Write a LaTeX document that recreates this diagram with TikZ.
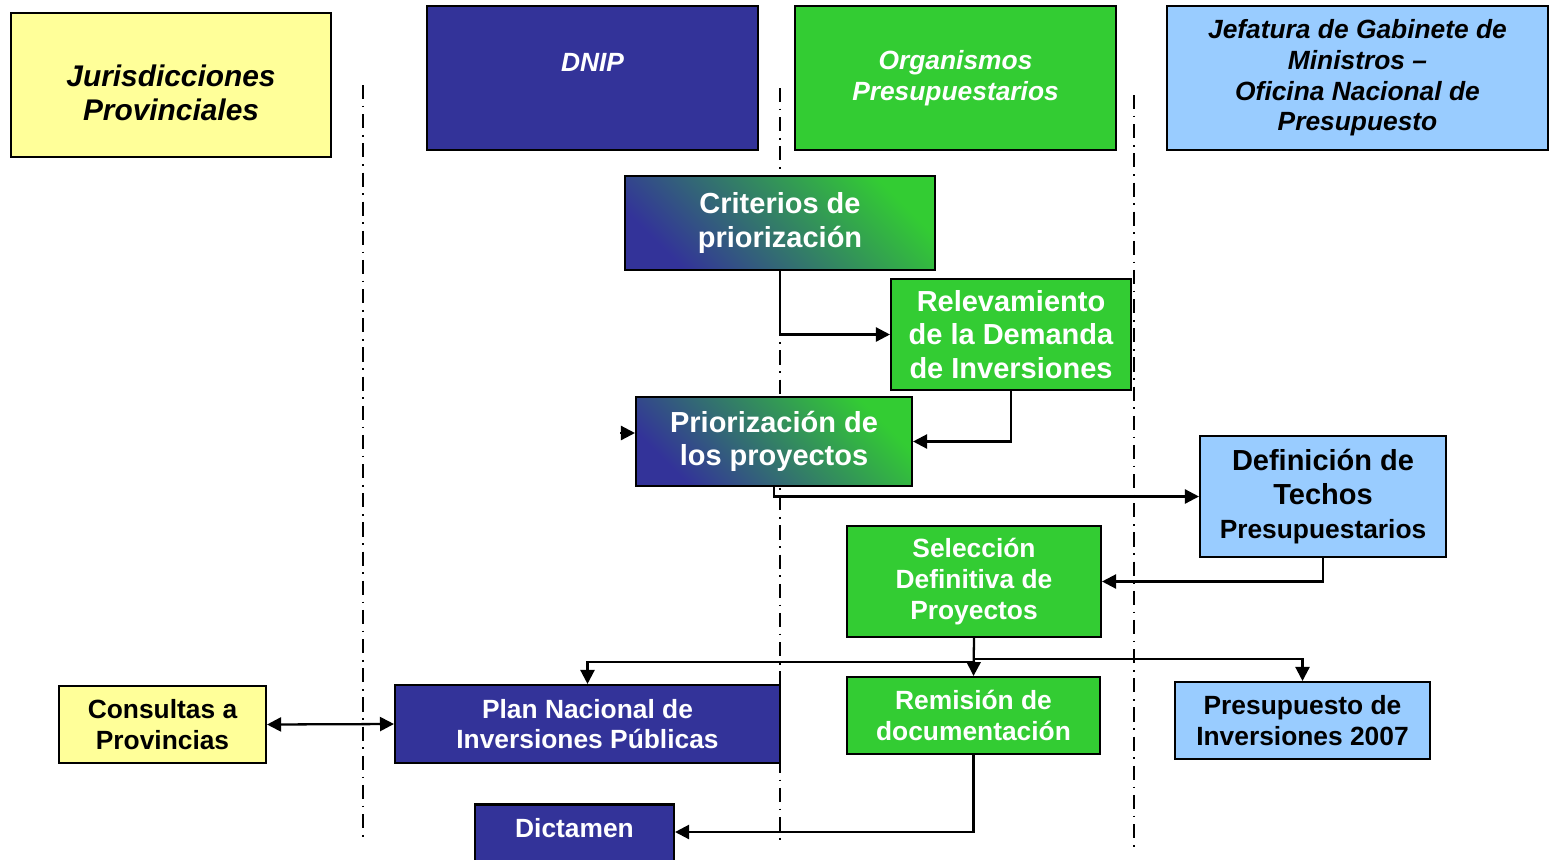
\documentclass[tikz,border=0pt]{standalone}
\usepackage{fontspec}
\setmainfont{Liberation Sans}
\usetikzlibrary{arrows.meta}
\definecolor{dnipblue}{HTML}{333399}
\definecolor{orggreen}{HTML}{33CC33}
\definecolor{jefblue}{HTML}{99CCFF}
\definecolor{provyellow}{HTML}{FFFF99}
\begin{document}
\begin{tikzpicture}[x=0.02cm, y=-0.02cm,
  box/.style={draw=black, line width=1.2pt, align=center, inner sep=0pt,
    font=\bfseries\fontsize{15}{17.5}\selectfont},
  big/.style={font=\bfseries\fontsize{16.5}{19.2}\selectfont},
  head/.style={font=\bfseries\itshape\fontsize{15}{17.5}\selectfont},
  provbox/.style={box, fill=provyellow, text=black},
  dnipbox/.style={box, fill=dnipblue, text=white},
  orgbox/.style={box, fill=orggreen, text=white},
  jefbox/.style={box, fill=jefblue, text=black},
  gradbox/.style={box, big, text=white, bottom color=dnipblue, top color=orggreen, shading angle=-45},
  conn/.style={line width=1.3pt, -{Triangle[length=0.28cm, width=0.28cm]}},
  lane/.style={line width=0.8pt, dash pattern=on 8pt off 3.8pt on 1pt off 3.8pt}]
\useasboundingbox (0,0) rectangle (1564,859);

% lanes
\draw[lane] (363,85) -- (363,840);
\draw[lane] (780,88) -- (780,845);
\draw[lane] (1134,95) -- (1134,850);

% headers
\node (juris) [provbox, head, minimum width=6.40cm, minimum height=2.88cm, text height=41pt,
  font=\bfseries\itshape\fontsize{17}{19.8}\selectfont] at (171,85) {Jurisdicciones\\Provinciales};
\node (dnip) [dnipbox, head, minimum width=6.62cm, minimum height=2.88cm] at (592.5,78) {DNIP\\~};
\node (org) [orgbox, head, minimum width=6.42cm, minimum height=2.88cm] at (955.5,78) {Organismos\\Presupuestarios};
\node (jef) [jefbox, head, minimum width=7.62cm, minimum height=2.88cm] at (1357.5,78)
  {Jefatura de Gabinete de\\Ministros --\\Oficina Nacional de\\Presupuesto};

% steps
\node (crit) [gradbox, minimum width=6.20cm, minimum height=1.88cm] at (780,223) {Criterios de\\priorización};
\node (relev) [orgbox, big, minimum width=4.80cm, minimum height=2.22cm] at (1011,334.5)
  {Relevamiento\\de la Demanda\\de Inversiones};
\node (prior) [gradbox, minimum width=5.52cm, minimum height=1.78cm] at (774,441.5) {Priorización de\\los proyectos};
\node (techos) [jefbox, big, minimum width=4.92cm, minimum height=2.42cm] at (1323,496.5)
  {Definición de\\Techos\\{\fontsize{15}{17.5}\selectfont Presupuestarios}};
\node (selec) [orgbox, minimum width=5.08cm, minimum height=2.22cm] at (974,581.5)
  {Selección\\Definitiva de\\Proyectos};
\node (consul) [provbox, minimum width=4.14cm, minimum height=1.54cm] at (162.5,724.5) {Consultas a\\Provincias};
\node (plan) [dnipbox, minimum width=7.70cm, minimum height=1.56cm] at (587.5,724) {Plan Nacional de\\Inversiones Públicas};
\node (remis) [orgbox, minimum width=5.06cm, minimum height=1.54cm] at (973.5,715.5) {Remisión de\\documentación};
\node (presup) [jefbox, minimum width=5.10cm, minimum height=1.54cm] at (1302.5,720.5) {Presupuesto de\\Inversiones 2007};
\node (dict) [dnipbox, minimum width=3.98cm, minimum height=1.54cm] at (574.5,843) {Dictamen\\~};
\coordinate (stub) at (620,433);

% connectors
\draw[conn] (crit.south) |- (relev.west);
\draw[conn] (relev.south) |- (prior.east);
\draw[conn] (prior.south) |- (techos.west);
\draw[conn] (techos.south) |- (selec.east);
\draw[conn] (selec.south) -- ++(0,24) -| (plan.north);
\draw[conn] (selec.south) -- (remis.north);
\draw[conn] (selec.south) -- ++(0,21) -| (presup.north);
\draw[conn, {Triangle[length=0.28cm, width=0.28cm]}-{Triangle[length=0.28cm, width=0.28cm]}] (consul.east) -- (plan.west);
\draw[conn] (remis.south) |- ([yshift=0.22cm]dict.east);
\draw[conn] (stub) -- (prior.west |- stub);
\end{tikzpicture}
\end{document}
